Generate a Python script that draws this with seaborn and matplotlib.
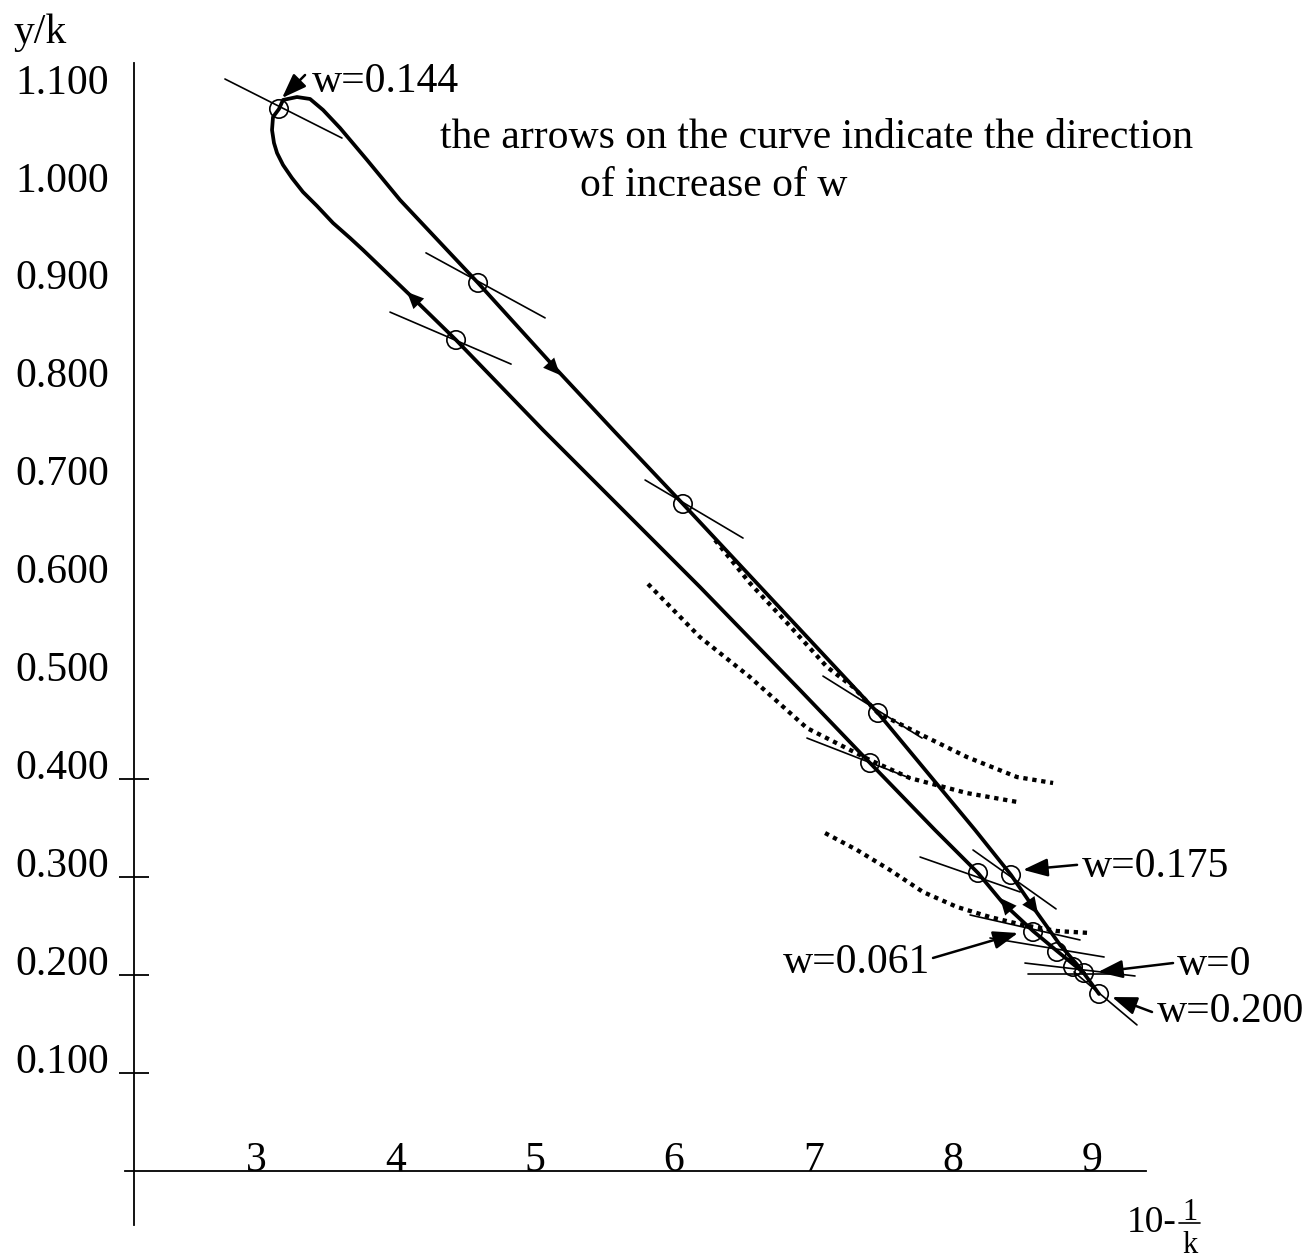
import numpy as np
import pandas as pd
import matplotlib
matplotlib.use("Agg")
import matplotlib.pyplot as plt
import seaborn as sns

# ---- data (x = 10 - 1/k, y = y/k) ----
# main curve, in order of increasing w (w=0 at the lower end of the left branch)
curve_x = [8.944, 8.750, 8.578, 8.362, 8.183, 7.874, 7.408, 6.905, 6.187, 5.469,
           5.060, 4.436, 4.120, 3.768, 3.675, 3.553, 3.438, 3.337, 3.258, 3.194,
           3.151, 3.129, 3.115, 3.122, 3.165, 3.194, 3.294, 3.388, 3.481, 3.603,
           3.797, 4.034, 4.371, 4.594, 5.161, 5.563, 6.065, 7.465, 8.162, 8.420,
           8.592, 8.772, 8.915, 9.052]
curve_y = [0.2018, 0.2243, 0.2447, 0.2733, 0.3040, 0.3479, 0.4163, 0.4909, 0.5961, 0.6983,
           0.7565, 0.8484, 0.8923, 0.9404, 0.9526, 0.9679, 0.9853, 0.9996, 1.0139, 1.0272,
           1.0394, 1.0497, 1.0629, 1.0762, 1.0844, 1.0936, 1.0966, 1.0946, 1.0834, 1.0650,
           1.0323, 0.9914, 0.9404, 0.9067, 0.8178, 0.7565, 0.6809, 0.4674, 0.3479, 0.3020,
           0.2663, 0.2305, 0.2070, 0.1804]

# dotted curves
dot1_x = [6.295, 6.546, 6.812, 7.099, 7.286, 7.465, 7.781, 8.104, 8.463, 8.722]
dot1_y = [0.6441, 0.6000, 0.5594, 0.5144, 0.4940, 0.4674, 0.4449, 0.4224, 0.4020, 0.3959]
dot2_x = [5.814, 6.187, 6.546, 6.955, 7.408, 7.695, 8.104, 8.470]
dot2_y = [0.5992, 0.5449, 0.5041, 0.4520, 0.4193, 0.4009, 0.3856, 0.3764]
dot3_x = [7.085, 7.314, 7.551, 7.788, 8.032, 8.269, 8.506, 8.750, 8.987]
dot3_y = [0.3448, 0.3275, 0.3070, 0.2846, 0.2693, 0.2590, 0.2509, 0.2447, 0.2427]

# marked points (circles)
pts_x = [3.165, 4.594, 4.436, 6.065, 7.465, 7.408, 8.183, 8.420, 8.578, 8.750, 8.865, 8.944, 9.052]
pts_y = [1.0844, 0.9067, 0.8484, 0.6809, 0.4674, 0.4163, 0.3040, 0.3019, 0.2437, 0.2233, 0.2080, 0.2018, 0.1804]

# tangent segments through the marked points (start x, start y, end x, end y)
tan_x0 = [2.777, 4.220, 3.962, 5.793, 7.070, 6.955, 7.767, 8.147, 8.126, 8.269, 8.520, 8.542, 8.872]
tan_y0 = [1.1150, 0.9374, 0.8769, 0.7054, 0.5051, 0.4418, 0.3203, 0.3275, 0.2611, 0.2376, 0.2120, 0.2008, 0.2029]
tan_x1 = [3.617, 5.075, 4.831, 6.496, 7.781, 7.695, 8.485, 8.743, 8.915, 9.088, 9.310, 9.152, 9.324]
tan_y1 = [1.0547, 0.8710, 0.8238, 0.6461, 0.4418, 0.4009, 0.2846, 0.2673, 0.2356, 0.2182, 0.1988, 0.2008, 0.1488]

# direction arrows on the curve (tail -> tip)
dir_tail_x = [4.177, 8.427, 5.096, 8.542]
dir_tail_y = [0.8842, 0.2642, 0.8260, 0.2765]
dir_tip_x = [4.084, 8.341, 5.182, 8.614]
dir_tip_y = [0.8975, 0.2785, 0.8127, 0.2621]

# w labels
w_labels = ["w=0.144", "w=0.175", "w=0.061", "w=0", "w=0.200"]
w_text_x = [3.402, 8.930, 7.838, 9.612, 9.468]
w_text_y = [1.1017, 0.3000, 0.2018, 0.1998, 0.1518]
w_align = ["left", "left", "right", "left", "left"]
w_tail_x = [3.352, 8.894, 7.860, 9.583, 9.432]
w_tail_y = [1.1191, 0.3123, 0.2172, 0.2120, 0.1620]
w_tip_x = [3.187, 8.506, 8.470, 9.044, 9.145]
w_tip_y = [1.0956, 0.3072, 0.2427, 0.2028, 0.1773]

x_ticks = [3, 4, 5, 6, 7, 8, 9]
y_ticks = [0.1, 0.2, 0.3, 0.4, 0.5, 0.6, 0.7, 0.8, 0.9, 1.0, 1.1]
y_marked = [0.1, 0.2, 0.3, 0.4]

note_1 = "the arrows on the curve indicate the direction"
note_2 = "of increase of w"

# ---- style ----
sns.set_theme(style="white")
plt.rcParams["font.family"] = ["Liberation Serif", "DejaVu Serif"]
plt.rcParams["text.color"] = "black"
plt.rcParams["xtick.color"] = "black"
plt.rcParams["ytick.color"] = "black"
FS = 30

fig = plt.figure(figsize=(13.09, 12.59), dpi=100)
ax = fig.add_axes([0, 0, 1, 1])
ax.set_xlim(1.1622, 10.559)
ax.set_ylim(-0.0903, 1.1957)

# main curve
sns.lineplot(x=curve_x, y=curve_y, sort=False, estimator=None, color="black",
             lw=2.7, ax=ax, zorder=3)

# dotted curves
for dx, dy in [(dot1_x, dot1_y), (dot2_x, dot2_y), (dot3_x, dot3_y)]:
    sns.lineplot(x=dx, y=dy, sort=False, estimator=None, color="black", lw=3.1,
                 ax=ax, zorder=2, linestyle=(0, (1, 1.1)))

# tangent segments
seg = pd.DataFrame({
    "seg": list(range(len(tan_x0))) * 2,
    "x": tan_x0 + tan_x1,
    "y": tan_y0 + tan_y1,
})
sns.lineplot(data=seg, x="x", y="y", units="seg", estimator=None, sort=False,
             color="black", lw=1.2, ax=ax, zorder=2)

# circles
ax.scatter(pts_x, pts_y, s=175, facecolors="none", edgecolors="black",
           linewidths=1.2, zorder=4)

# arrows along the curve
for tx, ty, hx, hy in zip(dir_tail_x, dir_tail_y, dir_tip_x, dir_tip_y):
    ax.annotate("", xy=(hx, hy), xytext=(tx, ty),
                arrowprops=dict(arrowstyle="-|>,head_length=1.0,head_width=0.45",
                                color="black", lw=0.01, shrinkA=0, shrinkB=0,
                                mutation_scale=12), zorder=5)

# labelled arrows
for lab, x, y, ha, tx, ty, hx, hy in zip(w_labels, w_text_x, w_text_y, w_align,
                                          w_tail_x, w_tail_y, w_tip_x, w_tip_y):
    ax.text(x, y, lab, ha=ha, va="baseline", fontsize=FS)
    ax.annotate("", xy=(hx, hy), xytext=(tx, ty),
                arrowprops=dict(arrowstyle="-|>,head_length=1.5,head_width=0.55",
                                color="black", lw=1.8, shrinkA=0, shrinkB=0,
                                mutation_scale=10), zorder=5)

# note
ax.text(4.321, 1.0445, note_1, ha="left", va="baseline", fontsize=FS)
ax.text(5.326, 0.9953, note_2, ha="left", va="baseline", fontsize=FS)

# axes
ax.set_xlabel("")
ax.set_ylabel("")
for s in ["top", "right"]:
    ax.spines[s].set_visible(False)
ax.spines["left"].set_position(("data", 2.124))
ax.spines["left"].set_bounds(-0.056, 1.131)
ax.spines["bottom"].set_position(("data", 0))
ax.spines["bottom"].set_bounds(2.06, 9.389)
for s in ["left", "bottom"]:
    ax.spines[s].set_color("black")
    ax.spines[s].set_linewidth(1.3)

ax.set_xticks(x_ticks)
ax.set_xticklabels([str(t) for t in x_ticks], fontsize=FS)
ax.tick_params(axis="x", length=0, pad=0)
for lab in ax.get_xticklabels():
    lab.set_verticalalignment("baseline")

ax.yaxis.remove_overlapping_locs = False
ax.set_yticks(y_ticks)
ax.set_yticklabels([f"{t:.3f}" for t in y_ticks], fontsize=FS)
ax.set_yticks(y_marked, minor=True)
ax.tick_params(axis="y", which="major", length=0, pad=18)
ax.tick_params(axis="y", which="minor", length=21.6, width=1.3, direction="inout",
               color="black", left=True)
for lab in ax.get_yticklabels():
    lab.set_verticalalignment("baseline")

ax.text(1.256, 1.1518, "y/k", ha="left", va="baseline", fontsize=FS)

# x label: 10 - 1/k
ax.text(9.253, -0.0627, "10-", ha="left", va="baseline", fontsize=27)
ax.text(9.703, -0.0505, "1", ha="center", va="baseline", fontsize=22)
ax.plot([9.628, 9.778], [-0.0537, -0.0537], color="black", lw=1.2)
ax.text(9.703, -0.0837, "k", ha="center", va="baseline", fontsize=22)

fig.savefig("out.png", dpi=100)
